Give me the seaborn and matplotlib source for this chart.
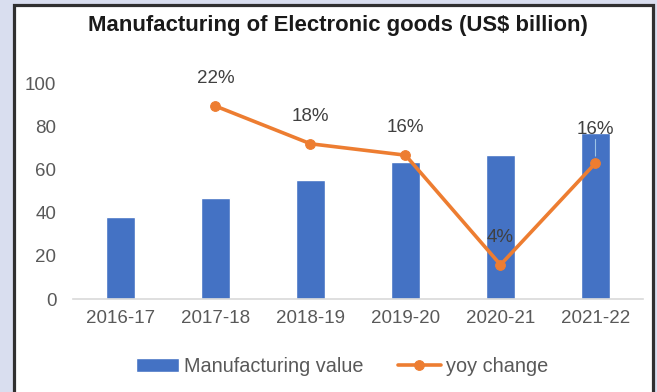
import numpy as np
import pandas as pd
import matplotlib
matplotlib.use("Agg")
import matplotlib.pyplot as plt
from matplotlib.patches import Rectangle
import seaborn as sns

# Electronics manufacturing output and its year-on-year growth
years = ["2016-17", "2017-18", "2018-19", "2019-20", "2020-21", "2021-22"]
manufacturing_value = [38, 46.7, 55, 63.4, 66.7, 76.8]
yoy_change = [np.nan, 0.220, 0.177, 0.164, 0.039, 0.155]

bar_label = "Manufacturing value"
line_label = "yoy change"
title = "Manufacturing of Electronic goods (US$ billion)"

BLUE = "#4472C4"
ORANGE = "#ED7D31"
TICK_GREY = "#595959"
LABEL_GREY = "#404040"

sns.set_style("white")
plt.rcParams["font.family"] = ["Liberation Sans", "DejaVu Sans"]

df = pd.DataFrame({"year": years, "value": manufacturing_value, "yoy": yoy_change})
df["pos"] = np.arange(len(df))

fig = plt.figure(figsize=(6.57, 3.92), dpi=100)
fig.patch.set_facecolor("#d9deef")

# white chart panel with a dark frame
panel = Rectangle((13.5 / 657, -0.02), (653 - 13.5) / 657, 1 - 4.5 / 392 + 0.02,
                  transform=fig.transFigure, facecolor="white", edgecolor="#303030",
                  linewidth=2.3, zorder=-1)
fig.patches.append(panel)

ax = fig.add_axes([73 / 657, 1 - 299 / 392, (643 - 73) / 657, (299 - 83) / 392])
ax.set_facecolor("none")
ax.set_zorder(1)

sns.barplot(data=df, x="year", y="value", color=BLUE, saturation=1, width=0.3,
            ax=ax, label=bar_label)
ax.set_xlim(-0.5, len(years) - 0.5)
ax.set_ylim(0, 100)
ax.set_yticks([0, 20, 40, 60, 80, 100])
ax.set_xlabel("")
ax.set_ylabel("")
ax.tick_params(axis="both", length=0, labelsize=13.5, colors=TICK_GREY, pad=8)
ax.tick_params(axis="y", pad=12)
for side in ["left", "right", "top"]:
    ax.spines[side].set_visible(False)
ax.spines["bottom"].set_color("#d9d9d9")
ax.spines["bottom"].set_linewidth(1.2)

# growth line on a hidden secondary scale
ax2 = ax.twinx()
ax2.set_zorder(2)
sns.lineplot(data=df, x="pos", y="yoy", color=ORANGE, linewidth=2.6, marker="o",
             markersize=7, markeredgecolor=ORANGE, ax=ax2, label=line_label, legend=False)
ax2.set_ylim(0, 100 / 406)
ax2.set_xlim(-0.5, len(years) - 0.5)
ax2.set_axis_off()

for i, (p, v) in enumerate(zip(df["pos"], df["yoy"])):
    if np.isnan(v):
        continue
    last = i == len(df) - 1
    off = 24.5 if last else 20
    ax2.annotate(f"{v:.0%}", (p, v), xytext=(0, off), textcoords="offset points",
                 ha="center", va="center", fontsize=13.5, color=LABEL_GREY)
    if last:
        ax2.annotate("", (p, v), xytext=(0, 17), textcoords="offset points",
                     arrowprops=dict(arrowstyle="-", color="#9dc3e6", lw=0.8,
                                     shrinkA=0, shrinkB=5))

fig.text(338 / 657, 1 - 25 / 392, title, ha="center", va="center",
         fontsize=15.9, fontweight="bold", color="#1a1a1a")

h1, l1 = ax.get_legend_handles_labels()
h2, l2 = ax2.get_legend_handles_labels()
if ax.get_legend() is not None:
    ax.get_legend().remove()
fig.legend(h1 + h2, l1 + l2, loc="center", bbox_to_anchor=(342 / 657, 1 - 366 / 392),
           ncol=2, frameon=False, fontsize=14.3, handlelength=2.2, handletextpad=0.25,
           columnspacing=1.7, labelcolor=TICK_GREY)

fig.savefig("out.png", dpi=100, facecolor=fig.get_facecolor())
